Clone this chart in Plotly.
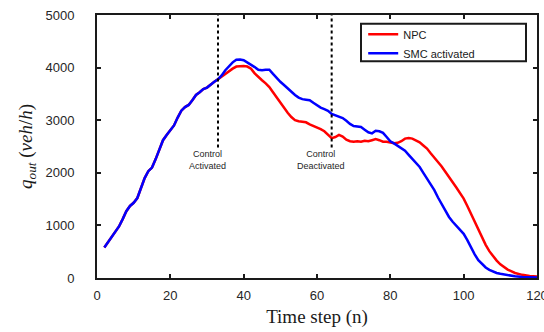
import plotly.graph_objects as go

# shared early portion (time steps 2..33)
x_shared = list(range(2, 34))
y_shared = [580, 680, 780, 870, 980, 1120, 1270, 1370, 1430, 1520, 1700, 1900, 2030, 2100,
            2260, 2460, 2620, 2720, 2820, 2900, 3050, 3180, 3250, 3290, 3380, 3480, 3530,
            3590, 3620, 3680, 3730, 3780]

x_tail = list(range(34, 111)) + [112, 114, 116, 118, 120]

smc_tail = [3850, 3950, 4030, 4100, 4150, 4155, 4140, 4100, 4060, 4010, 3960, 3950, 3960, 3960,
            3880, 3800, 3730, 3670, 3600, 3540, 3480, 3430, 3400, 3390, 3380, 3330, 3280, 3240,
            3210, 3180, 3120, 3090, 3070, 3040, 2990, 2930, 2890, 2880, 2870, 2820, 2770, 2750,
            2800, 2790, 2760, 2680, 2600, 2560, 2510, 2470, 2420, 2340, 2260, 2190, 2110, 2000,
            1890, 1790, 1670, 1530, 1400, 1260, 1160, 1070, 990, 920, 840, 720, 580, 450, 340,
            260, 200, 155, 120, 95, 80, 50, 32, 20, 12, 8]

npc_tail = [3830, 3880, 3940, 3980, 4020, 4030, 4030, 4020, 3980, 3890, 3820, 3760, 3700, 3630,
            3530, 3430, 3340, 3240, 3140, 3060, 3000, 2980, 2970, 2960, 2920, 2890, 2870, 2830,
            2790, 2720, 2660, 2680, 2720, 2690, 2630, 2600, 2590, 2600, 2590, 2610, 2600, 2620,
            2640, 2620, 2590, 2590, 2570, 2560, 2570, 2600, 2650, 2660, 2650, 2620, 2580, 2520,
            2460, 2370, 2290, 2220, 2120, 2020, 1930, 1820, 1720, 1620, 1510, 1370, 1220, 1060,
            900, 760, 630, 510, 410, 330, 260, 160, 95, 60, 40, 28]

x_vals = x_shared + x_tail
npc = y_shared + npc_tail
smc = y_shared + smc_tail

control_steps = [33, 64]
control_labels = ["Control<br>Activated", "Control<br>Deactivated"]
marker_y = [2480, 5000]

x_ticks = [0, 20, 40, 60, 80, 100, 120]
y_ticks = [0, 1000, 2000, 3000, 4000, 5000]

fig = go.Figure()
fig.add_trace(go.Scatter(x=x_vals, y=npc, mode="lines", name="NPC",
                         line=dict(color="#ff0000", width=2.5)))
fig.add_trace(go.Scatter(x=x_vals, y=smc, mode="lines", name="SMC activated",
                         line=dict(color="#0000ff", width=2.5)))
for cs in control_steps:
    fig.add_trace(go.Scatter(x=[cs, cs], y=marker_y, mode="lines", showlegend=False,
                             line=dict(color="black", width=2, dash="dot")))
for cs, lab in zip(control_steps, control_labels):
    fig.add_annotation(x=cs - 2.8, y=2250, text=lab, showarrow=False,
                       font=dict(family="Liberation Sans, Arial", size=9, color="#262626"))

# legend frame (wider than plotly's auto-sized legend box, as in the original)
fig.add_shape(type="rect", xref="paper", yref="paper", x0=0.6, x1=0.975, y0=0.824, y1=0.967,
              line=dict(color="#1a1a1a", width=2), fillcolor="white", layer="above")

axis_common = dict(showline=True, linewidth=2, linecolor="#1a1a1a", mirror="ticks",
                   ticks="inside", ticklen=4, tickwidth=2, tickcolor="#1a1a1a",
                   showgrid=False, zeroline=False, ticklabeloverflow="allow",
                   automargin=False,
                   tickfont=dict(family="Liberation Sans, Arial", size=13, color="#262626"))

fig.update_layout(
    width=544, height=332,
    margin=dict(l=97, r=7, t=15, b=54),
    paper_bgcolor="white", plot_bgcolor="white",
    showlegend=True,
    legend=dict(x=0.605, y=0.982, xanchor="left", yanchor="top",
                bgcolor="rgba(0,0,0,0)", borderwidth=0,
                font=dict(family="Liberation Sans, Arial", size=11, color="#1a1a1a"),
                tracegroupgap=0, itemwidth=30),
    xaxis=dict(range=[0, 120], tickvals=x_ticks, ticklabelstandoff=4,
               title=dict(text="Time step (n)", standoff=8,
                          font=dict(family="Liberation Serif, serif", size=19, color="#1a1a1a")),
               **axis_common),
    yaxis=dict(range=[0, 5000], tickvals=y_ticks, ticklabelstandoff=18,
               title=dict(text="<i>q</i><sub><i>out</i></sub> (<i>veh</i>/<i>h</i>)", standoff=8,
                          font=dict(family="Liberation Serif, serif", size=19, color="#1a1a1a")),
               **axis_common),
)

fig.write_html("out.html")
